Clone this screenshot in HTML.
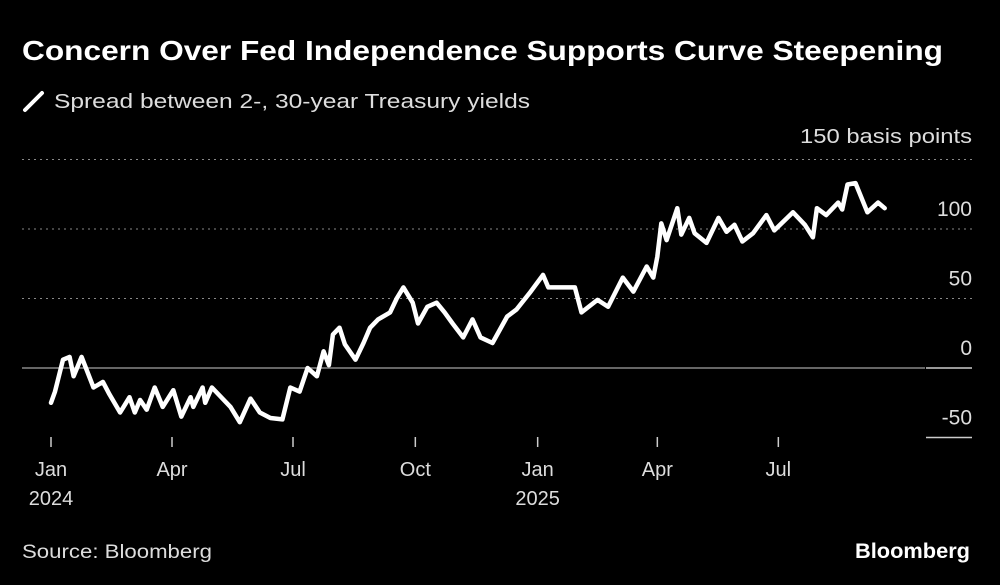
<!DOCTYPE html>
<html><head><meta charset="utf-8"><style>
body{margin:0;background:#000;width:1000px;height:585px;overflow:hidden;font-family:"Liberation Sans",sans-serif;color:#fff}
</style></head><body>
<svg width="1000" height="585" style="position:absolute;left:0;top:0">
<text x="22" y="60" font-size="28" font-weight="bold" fill="#fff" textLength="921" lengthAdjust="spacingAndGlyphs">Concern Over Fed Independence Supports Curve Steepening</text>
<line x1="25" y1="110" x2="42" y2="93" stroke="#fff" stroke-width="4" stroke-linecap="round"/>
<text x="54" y="108" font-size="20" fill="#ddd" textLength="476" lengthAdjust="spacingAndGlyphs">Spread between 2-, 30-year Treasury yields</text>
<text x="972" y="143" font-size="20" fill="#ddd" text-anchor="end" textLength="172" lengthAdjust="spacingAndGlyphs">150 basis points</text>
<g id="grid"></g><g id="xaxis"></g>
<path id="line" fill="none" stroke="#fff" stroke-width="4.5" stroke-linejoin="round" stroke-linecap="round"/>
<text x="22" y="558" font-size="19" fill="#ddd" textLength="190" lengthAdjust="spacingAndGlyphs">Source: Bloomberg</text>
<text x="970" y="558" font-size="21" font-weight="bold" fill="#fff" text-anchor="end" textLength="115" lengthAdjust="spacingAndGlyphs">Bloomberg</text>
</svg>
<script>
const yTicks=[150,100,50,0,-50];
const xTickDays=[0,91,182,274,366,456,547];
const xTickLabels=["Jan","Apr","Jul","Oct","Jan","Apr","Jul"];
const xYearLabels=["2024","","","","2025","",""];
const days=[0,3,9,14,17,23,32,39,44,52,59,63,67,72,78,84,92,98,105,107,114,116,121,135,142,150,157,165,174,180,187,193,200,205,209,212,217,221,229,235,240,246,255,260,265,272,276,283,290,296,302,310,317,323,332,343,350,360,370,374,383,394,399,411,419,430,438,448,453,456,459,463,471,474,480,484,493,502,508,514,520,528,538,544,558,567,573,576,583,592,595,599,605,614,622,627];
const values=[-25,-17,6,8,-6,8,-14,-10,-19,-32,-21,-32,-23,-30,-14,-28,-16,-35,-21,-28,-14,-25,-14,-28,-39,-22,-32,-36,-37,-14,-17,0,-6,12,2,24,29,17,6,18,29,35,40,50,58,47,32,44,47,40,32,22,35,22,18,37,42,54,67,58,58,58,40,49,44,65,55,73,65,80,104,92,115,96,108,97,90,108,98,103,91,97,110,99,112,103,94,115,110,119,114,132,133,112,119,115];
const X=d=>51+d*(121/91);
const Y=v=>368-v*1.39;
const NS="http://www.w3.org/2000/svg";
const grid=document.getElementById('grid');
yTicks.forEach(t=>{
  const y=Y(t);
  if(t>0){const l=document.createElementNS(NS,'line');
    
    
    l.setAttribute('x1',22);l.setAttribute('x2',972);l.setAttribute('y1',y);l.setAttribute('y2',y);
    l.setAttribute('stroke','#888');l.setAttribute('stroke-width','1');l.setAttribute('stroke-dasharray','2,4');grid.appendChild(l);}
  if(t===0){const l=document.createElementNS(NS,'line');
    
    
    l.setAttribute('x1',22);l.setAttribute('x2',925);l.setAttribute('y1',y);l.setAttribute('y2',y);
    l.setAttribute('stroke','#888');l.setAttribute('stroke-width','1.5');grid.appendChild(l);}
  if(t<=0){const l=document.createElementNS(NS,'line');
    
    
    l.setAttribute('x1',926);l.setAttribute('x2',972);l.setAttribute('y1',y);l.setAttribute('y2',y);
    l.setAttribute('stroke','#ccc');l.setAttribute('stroke-width','1.5');grid.appendChild(l);}
  if(t!==150){const tx=document.createElementNS(NS,'text');
    
    
    tx.setAttribute('x',972);tx.setAttribute('y',y-13);tx.setAttribute('text-anchor','end');
    tx.setAttribute('font-size','21');tx.setAttribute('fill','#ddd');tx.textContent=t;grid.appendChild(tx);}
});
const xa=document.getElementById('xaxis');
xTickDays.forEach((d,i)=>{
  const x=X(d);
  const l=document.createElementNS(NS,'line');
  
  
  l.setAttribute('x1',x);l.setAttribute('x2',x);l.setAttribute('y1',437);l.setAttribute('y2',447);
  l.setAttribute('stroke','#ccc');l.setAttribute('stroke-width','1.5');xa.appendChild(l);
  const t=document.createElementNS(NS,'text');
  
  
  t.setAttribute('x',x);t.setAttribute('y',476);t.setAttribute('text-anchor','middle');
  t.setAttribute('font-size','20');t.setAttribute('fill','#ddd');t.textContent=xTickLabels[i];xa.appendChild(t);
  if(xYearLabels[i]){const t2=document.createElementNS(NS,'text');
    
    
    t2.setAttribute('x',x);t2.setAttribute('y',505);t2.setAttribute('text-anchor','middle');
    t2.setAttribute('font-size','20');t2.setAttribute('fill','#ddd');t2.textContent=xYearLabels[i];xa.appendChild(t2);}
});
document.getElementById('line').setAttribute('d',days.map((d,i)=>(i?'L':'M')+X(d).toFixed(1)+','+Y(values[i]).toFixed(1)).join(''));
</script>
</body></html>
